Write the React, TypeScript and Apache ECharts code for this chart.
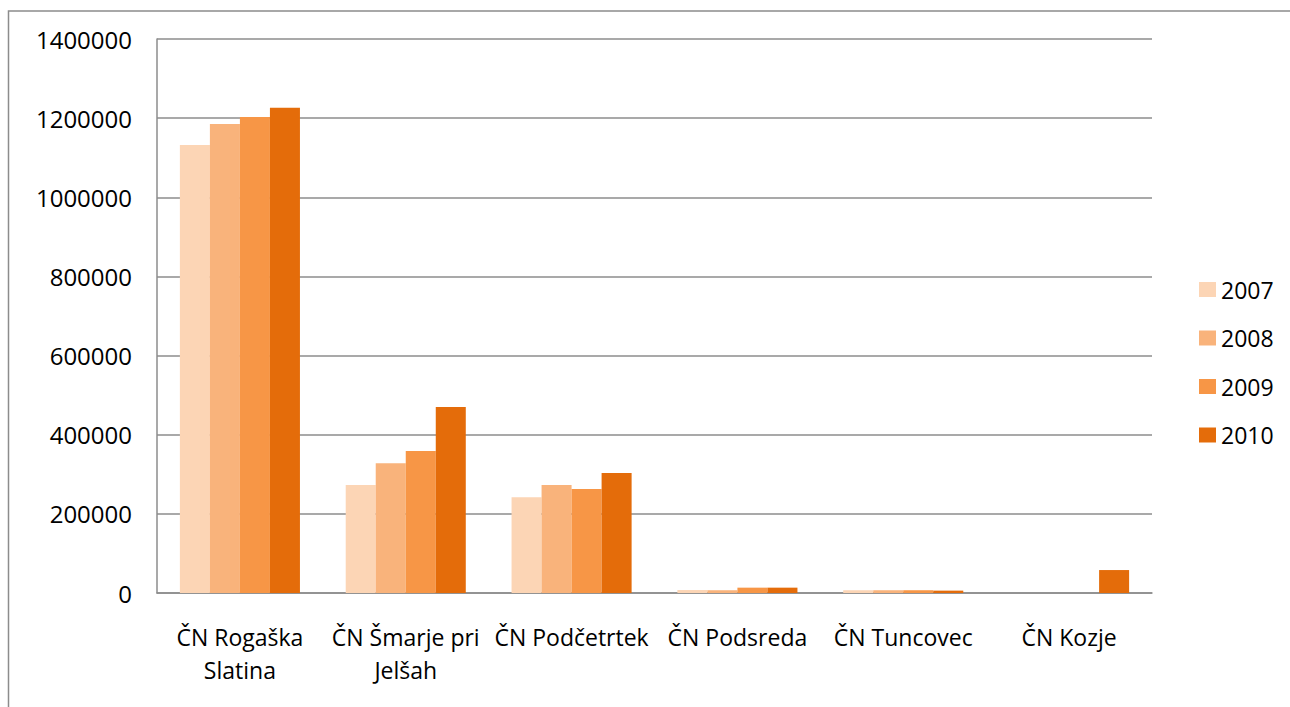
import React, { useEffect, useRef } from "react";
import * as echarts from "echarts";

const categories = [
  "ČN Rogaška\nSlatina",
  "ČN Šmarje pri\nJelšah",
  "ČN Podčetrtek",
  "ČN Podsreda",
  "ČN Tuncovec",
  "ČN Kozje",
];
const years = ["2007", "2008", "2009", "2010"];
const v2007 = [1132000, 273000, 242000, 7500, 7000, 0];
const v2008 = [1185000, 328000, 273000, 7000, 7000, 0];
const v2009 = [1203000, 359000, 263000, 13500, 7000, 0];
const v2010 = [1226000, 470000, 303000, 13500, 6000, 58000];
const colors = ["#FCD5B5", "#F9B37B", "#F79646", "#E46C0A"];

export default function App() {
  const ref = useRef<HTMLDivElement>(null);
  useEffect(() => {
    if (!ref.current) return;
    const chart = echarts.init(ref.current, null, { renderer: "svg" });
    const font = "'Open Sans', sans-serif";
    const values = [v2007, v2008, v2009, v2010];
    chart.setOption({
      animation: false,
      backgroundColor: "#fff",
      textStyle: { fontFamily: font },
      graphic: [
        {
          type: "rect",
          shape: { x: 8.5, y: 11, width: 1300, height: 720 },
          style: { fill: "none", stroke: "#8c8c8c", lineWidth: 1.5 },
          silent: true,
        },
      ],
      grid: { left: 157, top: 39, right: 138, bottom: 114 },
      legend: {
        orient: "vertical",
        left: 1194,
        top: 273,
        itemWidth: 17,
        itemHeight: 15,
        itemGap: 25.5,
        icon: "rect",
        data: years,
        textStyle: { fontSize: 23, color: "#000", fontFamily: font, lineHeight: 23 },
      },
      xAxis: {
        type: "category",
        data: categories,
        axisLine: { show: true, lineStyle: { color: "#8c8c8c", width: 1.5 } },
        axisTick: { show: false },
        axisLabel: {
          fontSize: 23,
          color: "#000",
          margin: 27,
          lineHeight: 33,
          fontFamily: font,
          interval: 0,
        },
      },
      yAxis: {
        type: "value",
        min: 0,
        max: 1400000,
        interval: 200000,
        axisLine: { show: true, lineStyle: { color: "#8c8c8c", width: 1.5 } },
        axisTick: { show: false },
        axisLabel: {
          fontSize: 24,
          color: "#000",
          margin: 25,
          fontFamily: font,
          formatter: (v: number) => String(v),
        },
        splitLine: { show: true, lineStyle: { color: "#8c8c8c", width: 1.5 } },
      },
      series: years.map((y, i) => ({
        name: y,
        type: "bar",
        data: values[i],
        barGap: "0%",
        barCategoryGap: "27.6%",
        itemStyle: { color: colors[i] },
      })),
    });
    return () => chart.dispose();
  }, []);
  return (
    <div
      ref={ref}
      style={{ position: "fixed", left: 0, top: 0, width: 1290, height: 707 }}
    />
  );
}
